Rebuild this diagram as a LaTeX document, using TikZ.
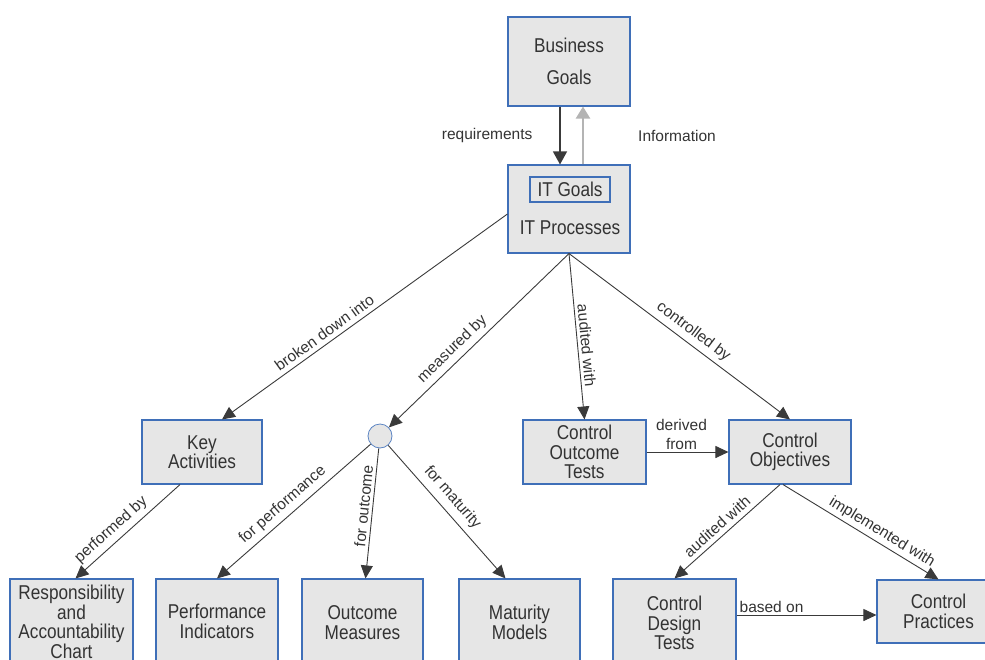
\documentclass[tikz,border=0pt]{standalone}
\usepackage{fontspec}
\setmainfont{Liberation Sans}
\newfontfamily\boxfont{Liberation Sans}[FakeStretch=0.86]
\usetikzlibrary{arrows.meta}
\definecolor{boxblue}{HTML}{3F6FB8}
\definecolor{boxgrey}{HTML}{E6E6E6}
\definecolor{inkgrey}{HTML}{333333}
\definecolor{linkgrey}{HTML}{3A3A3A}
\definecolor{infogrey}{HTML}{B4B4B4}

\begin{document}
\begin{tikzpicture}[x=1pt,y=-1pt,
  conceptbox/.style={draw=boxblue, fill=boxgrey, line width=1.1pt, inner sep=0pt,
    align=center, text=inkgrey, font=\boxfont\fontsize{20}{19.5}\selectfont},
  boxtext/.style={text=inkgrey, inner sep=0pt, font=\boxfont\fontsize{20}{19.5}\selectfont},
  link/.style={draw=linkgrey, line width=0.9pt, -{Triangle[length=13pt,width=12pt]}},
  infolink/.style={draw=infogrey, line width=2.4pt, -{Triangle[length=12pt,width=14pt]}},
  lbl/.style={text=inkgrey, inner sep=2pt, align=center,
    font=\fontsize{15.5}{19}\selectfont},
  slbl/.style={lbl, sloped, above, inner sep=4.5pt},
]
\clip (0,0) rectangle (985,659);

% goal hierarchy at the top
\node[conceptbox, minimum width=122pt, minimum height=89pt,
  font=\boxfont\fontsize{20}{32}\selectfont] (bg) at (569,61.5) {Business\\Goals};
\node[conceptbox, minimum width=122pt, minimum height=88pt] (it) at (569,209) {};
\node[draw=boxblue, line width=1.1pt, inner sep=0pt, minimum width=80pt,
  minimum height=25pt, boxtext] (itg) at (570,189.5) {IT Goals};
\node[boxtext] (itp) at (570,228) {IT Processes};

% middle row
\node[conceptbox, minimum width=120pt, minimum height=64pt] (ka) at (202,452) {Key\\Activities};
\node[circle, draw=boxblue!85, fill=boxgrey, minimum size=24pt, inner sep=0pt,
  line width=0.8pt] (hub) at (380,436) {};
\node[conceptbox, minimum width=123pt, minimum height=64pt] (cot) at (584.5,452) {Control\\Outcome\\Tests};
\node[conceptbox, minimum width=122pt, minimum height=64pt] (co) at (790,452) {Control\\Objectives};

% bottom row
\node[conceptbox, minimum width=123pt, minimum height=86pt] (rac) at (71.5,622)
  {Responsibility\\and\\Accountability\\Chart};
\node[conceptbox, minimum width=122pt, minimum height=85pt] (pi) at (217,621.5) {Performance\\Indicators};
\node[conceptbox, minimum width=121pt, minimum height=87pt] (om) at (362.5,622.5) {Outcome\\Measures};
\node[conceptbox, minimum width=121pt, minimum height=87pt] (mm) at (519.5,622.5) {Maturity\\Models};
\node[conceptbox, minimum width=123pt, minimum height=88pt] (cdt) at (674.5,623) {Control\\Design\\Tests};
\node[conceptbox, minimum width=123pt, minimum height=63pt] (cp) at (938.5,611.5) {Control\\Practices};

% connectors
\draw[link, line width=1.3pt, -{Triangle[length=13pt,width=14pt]}]
  ([xshift=-9pt]bg.south) -- ([xshift=-9pt]it.north)
  node[lbl, midway, left=25pt] {requirements};
\draw[infolink] ([xshift=14pt]it.north) -- ([xshift=14pt]bg.south)
  node[lbl, midway, right=52pt] {Information};

\draw[link] ([yshift=-5pt]it.west) -- ([xshift=20pt]ka.north)
  node[slbl, pos=0.62] {broken down into};
\draw[link] (it.south) -- (hub)
  node[slbl, pos=0.6] {measured by};
\draw[link] (it.south) -- (cot.north)
  node[slbl, pos=0.56, inner sep=3pt] {audited with};
\draw[link] (it.south) -- (co.north)
  node[slbl, pos=0.53] {controlled by};

\draw[link] ([xshift=-22pt]ka.south) -- ([xshift=4pt]rac.north)
  node[slbl, pos=0.58] {performed by};
\draw[link] (hub) -- (pi.north)
  node[slbl, pos=0.52] {for performance};
\draw[link] (hub) -- ([xshift=3pt]om.north)
  node[slbl, pos=0.45, inner sep=3pt] {for outcome};
\draw[link] (hub) -- ([xshift=-14pt]mm.north)
  node[slbl, pos=0.46, inner sep=6pt] {for maturity};

\draw[link] (cot.east) -- (co.west)
  node[lbl, midway, above, xshift=-6pt] {derived\\from};
\draw[link] ([xshift=-10pt]co.south) -- (cdt.north)
  node[slbl, pos=0.53] {audited with};
\draw[link] ([xshift=-7pt]co.south) -- (cp.north)
  node[slbl, pos=0.6, inner sep=3pt] {implemented with};
\draw[link] ([yshift=8pt]cdt.east) -- ([yshift=-3.5pt]cp.west)
  node[lbl, pos=0.25, above] {based on};
\end{tikzpicture}
\end{document}
